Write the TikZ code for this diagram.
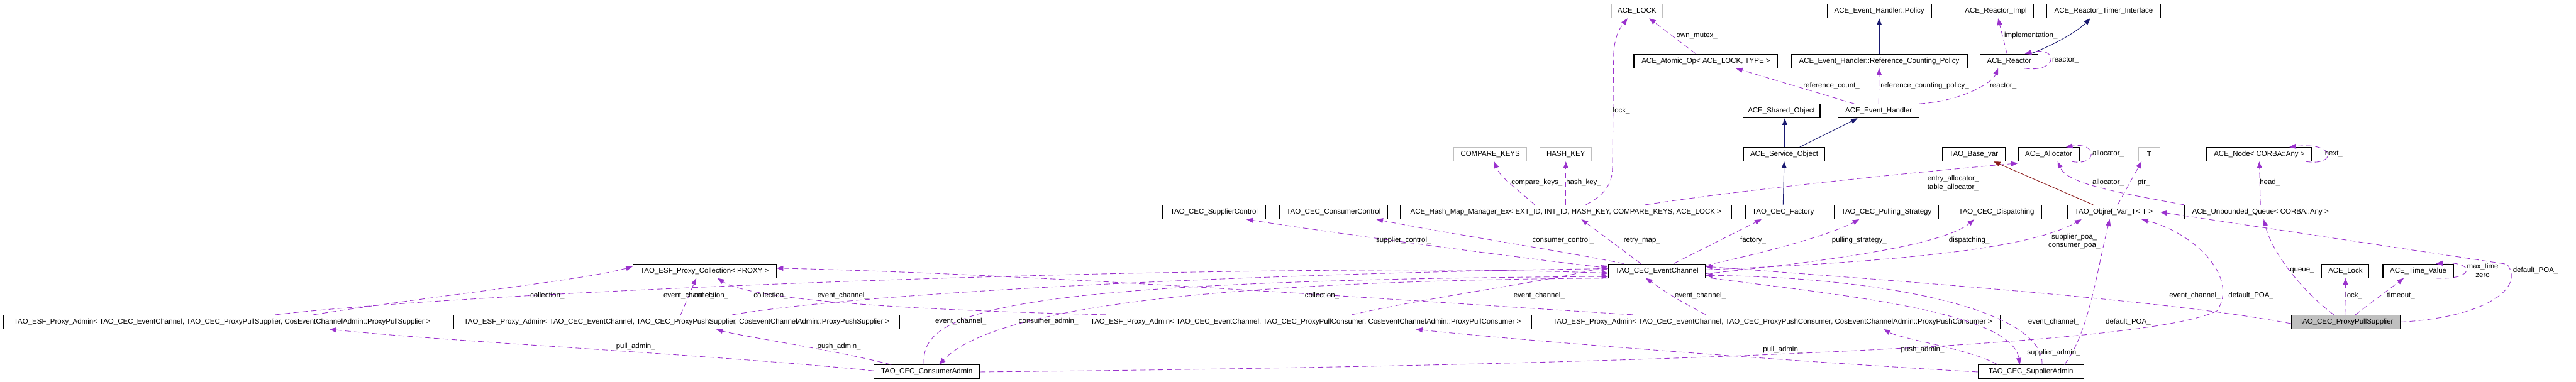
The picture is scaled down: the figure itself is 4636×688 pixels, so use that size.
\documentclass[tikz,border=0pt]{standalone}
\usepackage{fontspec}
\setmainfont{Liberation Sans}
\usetikzlibrary{arrows.meta}

\begin{document}
\begin{tikzpicture}[x=1pt, y=-1pt, >={Triangle[length=12pt,width=9pt]},
    font=\fontsize{13}{15}\selectfont,
    cls/.style={draw=black, line width=1.2pt, inner sep=0pt, minimum height=25pt, fill=white},
    ext/.style={cls, draw=grey75},
    cur/.style={cls, fill=grey75},
    dep/.style={->, draw=orchid, line width=1pt, dash pattern=on 10pt off 6pt},
    inh/.style={->, draw=navy, line width=1pt},
    lbl/.style={inner sep=0pt, align=center}]
    \definecolor{orchid}{RGB}{154,50,205}
    \definecolor{navy}{RGB}{25,25,112}
    \definecolor{grey75}{RGB}{191,191,191}
    \definecolor{brick}{RGB}{139,26,26}
    \useasboundingbox (0,0) rectangle (4636,688);

    % 顶部的类
    \node[ext, minimum width=92pt] (lockT) at (2946,20) {ACE\_LOCK};
    \node[cls, minimum width=188pt] (pol) at (3382,20) {ACE\_Event\_Handler::Policy};
    \node[cls, minimum width=136pt] (rimpl) at (3592,20) {ACE\_Reactor\_Impl};
    \node[cls, minimum width=205pt] (rtimer) at (3786,20) {ACE\_Reactor\_Timer\_Interface};
    \node[cls, minimum width=259pt] (atomic) at (3070,110) {ACE\_Atomic\_Op< ACE\_LOCK, TYPE >};
    \node[cls, minimum width=317pt] (refpol) at (3382,110) {ACE\_Event\_Handler::Reference\_Counting\_Policy};
    \node[cls, minimum width=104pt] (reactor) at (3616,110) {ACE\_Reactor};
    \node[cls, minimum width=139pt] (shared) at (3206,200) {ACE\_Shared\_Object};
    \node[cls, minimum width=146pt] (evh) at (3381,200) {ACE\_Event\_Handler};
    \node[ext, minimum width=131pt] (cmpk) at (2682,278) {COMPARE\_KEYS};
    \node[ext, minimum width=93pt] (hkey) at (2818,278) {HASH\_KEY};
    \node[cls, minimum width=147pt] (svc) at (3211,278) {ACE\_Service\_Object};
    \node[cls, minimum width=113pt] (basevar) at (3552,278) {TAO\_Base\_var};
    \node[cls, minimum width=110pt] (alloc) at (3687,278) {ACE\_Allocator};
    \node[ext, minimum width=38pt] (tT) at (3868,278) {T};
    \node[cls, minimum width=189pt] (anynode) at (4066,278) {ACE\_Node< CORBA::Any >};

    % 中间一行
    \node[cls, minimum width=185pt] (supctl) at (2185,382) {TAO\_CEC\_SupplierControl};
    \node[cls, minimum width=195pt] (conctl) at (2400,382) {TAO\_CEC\_ConsumerControl};
    \node[cls, minimum width=597pt] (hmap) at (2818,382) {ACE\_Hash\_Map\_Manager\_Ex< EXT\_ID, INT\_ID, HASH\_KEY, COMPARE\_KEYS, ACE\_LOCK >};
    \node[cls, minimum width=136pt] (factory) at (3209,382) {TAO\_CEC\_Factory};
    \node[cls, minimum width=187pt] (pulling) at (3395,382) {TAO\_CEC\_Pulling\_Strategy};
    \node[cls, minimum width=162pt] (disp) at (3593,382) {TAO\_CEC\_Dispatching};
    \node[cls, minimum width=166pt] (objref) at (3804,382) {TAO\_Objref\_Var\_T< T >};
    \node[cls, minimum width=273pt] (uqueue) at (4068,382) {ACE\_Unbounded\_Queue< CORBA::Any >};
    \node[cls, minimum width=258pt] (coll) at (1268,488) {TAO\_ESF\_Proxy\_Collection< PROXY >};
    \node[cls, minimum width=174pt] (ec) at (2982,488) {TAO\_CEC\_EventChannel};
    \node[cls, minimum width=85pt] (acelock) at (4221,488) {ACE\_Lock};
    \node[cls, minimum width=127pt] (tval) at (4352,488) {ACE\_Time\_Value};

    % 底部
    \node[cls, minimum width=788pt] (admPlS) at (400,580) {TAO\_ESF\_Proxy\_Admin< TAO\_CEC\_EventChannel, TAO\_CEC\_ProxyPullSupplier, CosEventChannelAdmin::ProxyPullSupplier >};
    \node[cls, minimum width=803pt] (admPsS) at (1218,580) {TAO\_ESF\_Proxy\_Admin< TAO\_CEC\_EventChannel, TAO\_CEC\_ProxyPushSupplier, CosEventChannelAdmin::ProxyPushSupplier >};
    \node[cls, minimum width=812pt] (admPlC) at (2350,580) {TAO\_ESF\_Proxy\_Admin< TAO\_CEC\_EventChannel, TAO\_CEC\_ProxyPullConsumer, CosEventChannelAdmin::ProxyPullConsumer >};
    \node[cls, minimum width=820pt] (admPsC) at (3190,580) {TAO\_ESF\_Proxy\_Admin< TAO\_CEC\_EventChannel, TAO\_CEC\_ProxyPushConsumer, CosEventChannelAdmin::ProxyPushConsumer >};
    \node[cur, minimum width=196pt] (pps) at (4222,580) {TAO\_CEC\_ProxyPullSupplier};
    \node[cls, minimum width=190pt] (cadmin) at (1668,670) {TAO\_CEC\_ConsumerAdmin};
    \node[cls, minimum width=190pt] (sadmin) at (3655,670) {TAO\_CEC\_SupplierAdmin};

    % 继承关系（实线）
    \draw[inh] (refpol.north) -- (pol.south);
    \draw[inh] ([xshift=38pt]reactor.north) .. controls (3700,80) and (3740,55) .. ([xshift=-24pt]rtimer.south);
    \draw[inh] ([xshift=1pt]svc.north) -- ([xshift=6pt]shared.south);
    \draw[inh] ([xshift=28pt]svc.north) -- ([xshift=-38pt]evh.south);
    \draw[inh] (factory.north) -- (svc.south);
    \draw[inh, draw=brick] ([xshift=-37pt]objref.north) -- ([xshift=36pt]basevar.south);

    % 成员关系（虚线）
    \draw[dep] ([xshift=-18pt]atomic.north) -- ([xshift=22pt]lockT.south);
    \draw[dep] ([xshift=36pt]hmap.north) .. controls (2890,350) and (2902,330) .. (2902,300) -- (2904,100) .. controls (2905,60) and (2920,45) .. ([xshift=-17pt]lockT.south);
    \draw[dep] ([xshift=-44pt]evh.north) -- ([xshift=54pt]atomic.south);
    \draw[dep] (evh.north) -- (refpol.south);
    \draw[dep] (evh.north east) .. controls (3530,182) and (3585,150) .. ([xshift=-20pt]reactor.south);
    \draw[dep] ([xshift=-4pt]reactor.north) -- ([xshift=4pt]rimpl.south);
    \draw[dep] ([xshift=27pt]reactor.south) .. controls (3705,132) and (3705,82) .. ([xshift=28pt]reactor.north);
    \draw[dep] ([xshift=-56pt]hmap.north) .. controls (2730,340) and (2700,320) .. ([xshift=7pt]cmpk.south);
    \draw[dep] (hmap.north) -- (hkey.south);
    \draw[dep] ([xshift=143pt]hmap.north) .. controls (3150,340) and (3450,310) .. ([yshift=-3pt]alloc.south west);
    \draw[dep] ([xshift=42pt]alloc.south) .. controls (3775,300) and (3775,255) .. ([xshift=31pt]alloc.north);
    \draw[dep] (uqueue.north west) .. controls (3800,345) and (3720,330) .. ([xshift=16pt]alloc.south);
    \draw[dep] ([xshift=7pt]objref.north) -- ([xshift=-14pt]tT.south);
    \draw[dep] (uqueue.north) -- (anynode.south);
    \draw[dep] ([xshift=84pt]anynode.south) .. controls (4205,300) and (4205,255) .. ([xshift=54pt]anynode.north);
    \draw[dep] ([yshift=-8pt]ec.north west) .. controls (2700,460) and (2400,420) .. ([xshift=58pt]supctl.south);
    \draw[dep] ([xshift=-60pt]ec.north) .. controls (2800,450) and (2600,420) .. ([xshift=77pt]conctl.south);
    \draw[dep] ([xshift=-29pt]ec.north) -- ([xshift=28pt]hmap.south);
    \draw[dep] ([xshift=30pt]ec.north) -- ([xshift=-39pt]factory.south);
    \draw[dep] ([yshift=-3pt]ec.north east) .. controls (3200,450) and (3300,420) .. ([xshift=-49pt]pulling.south);
    \draw[dep] ([yshift=-5pt]ec.east) .. controls (3300,470) and (3500,440) .. ([xshift=-40pt]disp.south);
    \draw[dep] ([yshift=2pt]ec.east) .. controls (3400,472) and (3650,450) .. ([xshift=-58pt]objref.south);
    \draw[dep] (pps.east) .. controls (4470,572) and (4545,520) .. (4512,476) -- (objref.east);
    \draw[dep] ([xshift=-22pt]pps.north) .. controls (4150,530) and (4090,460) .. ([xshift=6pt]uqueue.south);
    \draw[dep] (pps.north) -- (acelock.south);
    \draw[dep] ([xshift=17pt]pps.north) -- ([xshift=-26pt]tval.south);
    \draw[dep] ([xshift=32pt]tval.south) .. controls (4455,505) and (4455,470) .. ([xshift=32pt]tval.north);
    \draw[dep] ([yshift=-3pt]pps.west) .. controls (3900,540) and (3400,505) .. ([yshift=8pt]ec.east);

    % 左下部分
    \draw[dep] ([xshift=164pt]admPlS.north) .. controls (800,530) and (1050,505) .. ([yshift=8pt]coll.west);
    \draw[dep] ([xshift=96pt]admPlS.north) .. controls (900,520) and (2300,470) .. ([yshift=-4pt]ec.west);
    \draw[dep] ([xshift=7pt]admPsS.north) -- ([xshift=-15pt]coll.south);
    \draw[dep] ([xshift=100pt]admPsS.north) .. controls (1600,520) and (2400,490) .. ([yshift=4pt]ec.west);
    \draw[dep] ([xshift=-360pt]admPlC.north) .. controls (1700,560) and (1360,545) .. ([xshift=23pt]coll.south);
    \draw[dep] ([xshift=83pt]admPlC.north) .. controls (2600,530) and (2800,505) .. ([yshift=9pt]ec.west);
    \draw[dep] ([xshift=-252pt]admPsC.north) .. controls (2500,540) and (1900,495) .. ([yshift=5pt]coll.east);
    \draw[dep] ([xshift=-120pt]admPsC.north) .. controls (3000,530) and (2990,520) .. ([xshift=-20pt]ec.south);
    \draw[dep] ([xshift=-5pt]cadmin.north) .. controls (1655,560) and (1800,505) .. ([yshift=-10pt]ec.west);
    \draw[dep] (ec.south west) .. controls (2300,505) and (1800,540) .. ([xshift=22pt]cadmin.north);
    \draw[dep] ([xshift=-64pt]cadmin.north) .. controls (1500,630) and (1330,605) .. ([xshift=71pt]admPsS.south);
    \draw[dep] ([yshift=2pt]cadmin.west) .. controls (1300,640) and (800,615) .. ([xshift=193pt]admPlS.south);
    \draw[dep] (cadmin.east) .. controls (2800,660) and (3850,630) .. (3990,560) .. controls (4030,500) and (3950,420) .. ([xshift=50pt]objref.south);

    % 右下部分
    \draw[dep] (sadmin.west) .. controls (3200,650) and (2700,610) .. ([xshift=198pt]admPlC.south);
    \draw[dep] ([xshift=-60pt]sadmin.north) .. controls (3550,630) and (3420,610) .. ([xshift=200pt]admPsC.south);
    \draw[dep] ([xshift=20pt]sadmin.north) .. controls (3680,560) and (3400,500) .. ([yshift=-8pt]ec.east);
    \draw[dep] ([xshift=10pt]ec.south east) .. controls (3300,530) and (3620,560) .. ([xshift=-20pt]sadmin.north);
    \draw[dep] ([xshift=60pt]sadmin.north) .. controls (3760,600) and (3775,480) .. ([xshift=-7pt]objref.south);

    % 标签
    \node[lbl] (l1) at (3054,64) {own\_mutex\_};
    \node[lbl] (l2) at (2918,200) {lock\_};
    \node[lbl] (l3) at (3296,155) {reference\_count\_};
    \node[lbl] (l4) at (3464,155) {reference\_counting\_policy\_};
    \node[lbl] (l5) at (3605,155) {reactor\_};
    \node[lbl] (l6) at (3655,64) {implementation\_};
    \node[lbl] (l7) at (3717,109) {reactor\_};
    \node[lbl] (l8) at (2766,329) {compare\_keys\_};
    \node[lbl] (l9) at (2850,329) {hash\_key\_};
    \node[lbl, align=left] (l10) at (3515,330) {entry\_allocator\_\\table\_allocator\_};
    \node[lbl] (l11) at (3794,277) {allocator\_};
    \node[lbl] (l12) at (3794,329) {allocator\_};
    \node[lbl] (l13) at (3858,329) {ptr\_};
    \node[lbl] (l14) at (4085,329) {head\_};
    \node[lbl] (l15) at (4200,277) {next\_};
    \node[lbl] (l16) at (2526,433) {supplier\_control\_};
    \node[lbl] (l17) at (2813,433) {consumer\_control\_};
    \node[lbl] (l18) at (2955,433) {retry\_map\_};
    \node[lbl] (l19) at (3155,433) {factory\_};
    \node[lbl] (l20) at (3346,433) {pulling\_strategy\_};
    \node[lbl] (l21) at (3544,433) {dispatching\_};
    \node[lbl] (l22) at (3733,435) {supplier\_poa\_\\consumer\_poa\_};
    \node[lbl] (l23) at (4563,487) {default\_POA\_};
    \node[lbl] (l24) at (4143,487) {queue\_};
    \node[lbl] (l25) at (4236,532) {lock\_};
    \node[lbl] (l26) at (4321,532) {timeout\_};
    \node[lbl] (l27) at (4468,487) {max\_time\\zero};
    \node[lbl] (l28) at (3950,532) {event\_channel\_};
    \node[lbl] (l29) at (4051,532) {default\_POA\_};
    \node[lbl] (l30) at (985,533) {collection\_};
    \node[lbl] (l31) at (1240,533) {event\_channel\_};
    \node[lbl] (l32) at (1280,533) {collection\_};
    \node[lbl] (l33) at (1387,533) {collection\_};
    \node[lbl] (l34) at (1517,533) {event\_channel\_};
    \node[lbl] (l35) at (1729,579) {event\_channel\_};
    \node[lbl] (l36) at (1887,579) {consumer\_admin\_};
    \node[lbl] (l37) at (1510,624) {push\_admin\_};
    \node[lbl] (l38) at (1144,624) {pull\_admin\_};
    \node[lbl] (l39) at (2379,533) {collection\_};
    \node[lbl] (l40) at (2770,533) {event\_channel\_};
    \node[lbl] (l41) at (3208,630) {pull\_admin\_};
    \node[lbl] (l42) at (3460,630) {push\_admin\_};
    \node[lbl] (l43) at (3696,636) {supplier\_admin\_};
    \node[lbl] (l44) at (3696,580) {event\_channel\_};
    \node[lbl] (l45) at (3830,580) {default\_POA\_};
    \node[lbl] (l46) at (3060,533) {event\_channel\_};
\end{tikzpicture}
\end{document}
